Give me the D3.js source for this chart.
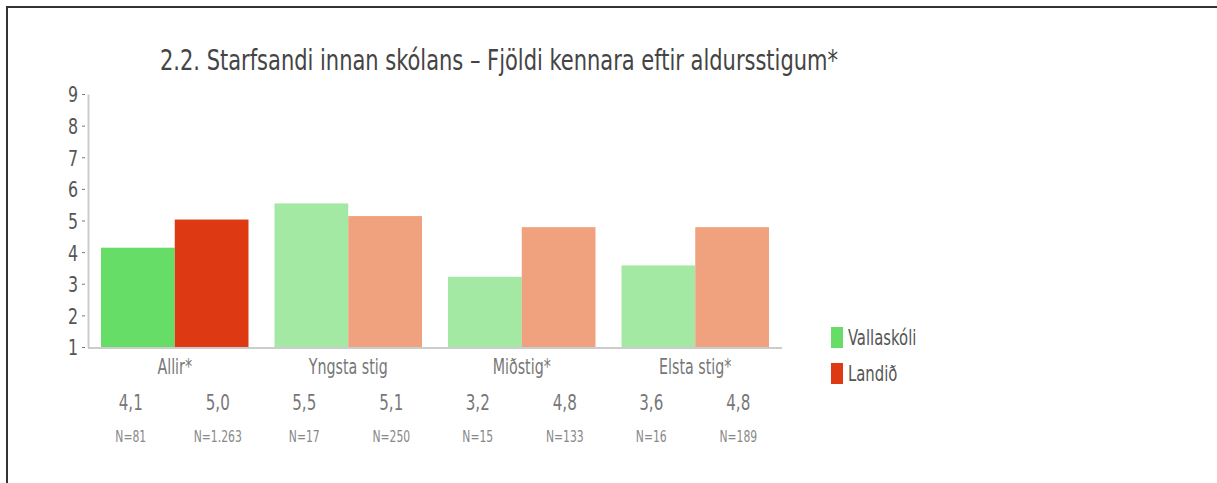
<!DOCTYPE html>
<html>
<head>
<meta charset="utf-8">
<script src="https://cdn.jsdelivr.net/npm/d3@7"></script>
<style>
  body { margin: 0; background: #fff; }
  svg text { font-family: "Liberation Sans Narrow", "DejaVu Sans Condensed", "DejaVu Sans", sans-serif; }
</style>
</head>
<body>
<svg id="chart" width="1217" height="483"></svg>
<script>
// ** data ** //
var categories = ["Allir*", "Yngsta stig", "Miðstig*", "Elsta stig*"];
var seriesNames = ["Vallaskóli", "Landið"];
var schoolValues = [4.14, 5.54, 3.22, 3.58];
var nationValues = [5.03, 5.14, 4.79, 4.79];
var schoolN = ["N=81", "N=17", "N=15", "N=16"];
var nationN = ["N=1.263", "N=250", "N=133", "N=189"];
var yTicks = [1, 2, 3, 4, 5, 6, 7, 8, 9];

// first group is darker (significant), others are lighter
var schoolColors = ["#66dd66", "#a3e8a3", "#a3e8a3", "#a3e8a3"];
var nationColors = ["#dd3a14", "#f0a27e", "#f0a27e", "#f0a27e"];

var data = categories.map(function (c, i) {
  return {
    cat: c,
    values: [
      { key: seriesNames[0], value: schoolValues[i], n: schoolN[i], color: schoolColors[i] },
      { key: seriesNames[1], value: nationValues[i], n: nationN[i], color: nationColors[i] }
    ]
  };
});

var svg = d3.select("#chart");
var fmt = d3.format(".1f");

// squeeze text horizontally to get a condensed look
function condense(sel, factor) {
  sel.each(function () {
    var w = this.getComputedTextLength();
    d3.select(this).attr("textLength", w * factor).attr("lengthAdjust", "spacingAndGlyphs");
  });
}

// frame lines (top and left)
svg.append("line").attr("x1", 7).attr("x2", 1217).attr("y1", 7).attr("y2", 7)
  .attr("stroke", "#333").attr("stroke-width", 2);
svg.append("line").attr("x1", 7).attr("x2", 7).attr("y1", 6).attr("y2", 483)
  .attr("stroke", "#333").attr("stroke-width", 2);

// title
svg.append("text")
  .attr("x", 160).attr("y", 70)
  .attr("fill", "#444")
  .style("font-size", "29px")
  .attr("textLength", 678).attr("lengthAdjust", "spacingAndGlyphs")
  .text("2.2. Starfsandi innan skólans – Fjöldi kennara eftir aldursstigum*");

var x0 = d3.scaleBand().domain(categories).range([88, 782])
  .paddingInner(0.15).paddingOuter(0.075);
var x1 = d3.scaleBand().domain(seriesNames).range([0, x0.bandwidth()]);
var y = d3.scaleLinear().domain([1, 9]).range([347, 94]);

// y axis
var yAxis = svg.append("g").attr("transform", "translate(88,0)")
  .call(d3.axisLeft(y).tickValues(yTicks).tickSize(0).tickPadding(10));
yAxis.select(".domain").attr("stroke", "#ccc").attr("stroke-width", 2);
yAxis.selectAll("text").attr("fill", "#555").style("font-size", "22px").attr("dy", "0.36em");
yAxis.selectAll(".tick").append("line")
  .attr("x1", -6).attr("x2", -3).attr("stroke", "#777");

// bars
var groups = svg.selectAll("g.group")
  .data(data)
  .enter().append("g")
  .attr("class", "group")
  .attr("transform", d => "translate(" + x0(d.cat) + ",0)");

groups.selectAll("rect")
  .data(d => d.values)
  .enter().append("rect")
  .attr("x", d => x1(d.key))
  .attr("width", x1.bandwidth())
  .attr("y", d => y(d.value))
  .attr("height", d => y(1) - y(d.value))
  .attr("fill", d => d.color);

// baseline
svg.append("line").attr("x1", 88).attr("x2", 782).attr("y1", y(1) + 1).attr("y2", y(1) + 1)
  .attr("stroke", "#ccc").attr("stroke-width", 2);

// category labels
groups.append("text")
  .attr("class", "cat")
  .attr("x", x0.bandwidth() / 2).attr("y", 374)
  .attr("text-anchor", "middle").attr("fill", "#777")
  .style("font-size", "22px")
  .text(d => d.cat);

// value and N labels under each bar
var offsets = [-44, 43];
groups.selectAll("text.val")
  .data(d => d.values)
  .enter().append("text")
  .attr("class", "val")
  .attr("x", (d, i) => x0.bandwidth() / 2 + offsets[i]).attr("y", 410)
  .attr("text-anchor", "middle").attr("fill", "#777")
  .style("font-size", "21px")
  .text(d => fmt(d.value).replace(".", ","));

groups.selectAll("text.n")
  .data(d => d.values)
  .enter().append("text")
  .attr("class", "n")
  .attr("x", (d, i) => x0.bandwidth() / 2 + offsets[i]).attr("y", 442)
  .attr("text-anchor", "middle").attr("fill", "#888")
  .style("font-size", "16px")
  .text(d => d.n);

// legend
var legend = svg.selectAll("g.legend")
  .data(seriesNames)
  .enter().append("g")
  .attr("class", "legend")
  .attr("transform", (d, i) => "translate(831," + (327 + i * 36) + ")");

legend.append("rect")
  .attr("width", 12).attr("height", 21)
  .attr("fill", (d, i) => i == 0 ? schoolColors[0] : nationColors[0]);

legend.append("text")
  .attr("x", 17).attr("y", 18)
  .attr("fill", "#555")
  .style("font-size", "22px")
  .text(d => d);

condense(yAxis.selectAll(".tick text"), 0.8);
condense(svg.selectAll("text.cat"), 0.72);
condense(svg.selectAll("text.val"), 0.8);
condense(svg.selectAll("text.n"), 0.75);
condense(legend.selectAll("text"), 0.75);
</script>
</body>
</html>
